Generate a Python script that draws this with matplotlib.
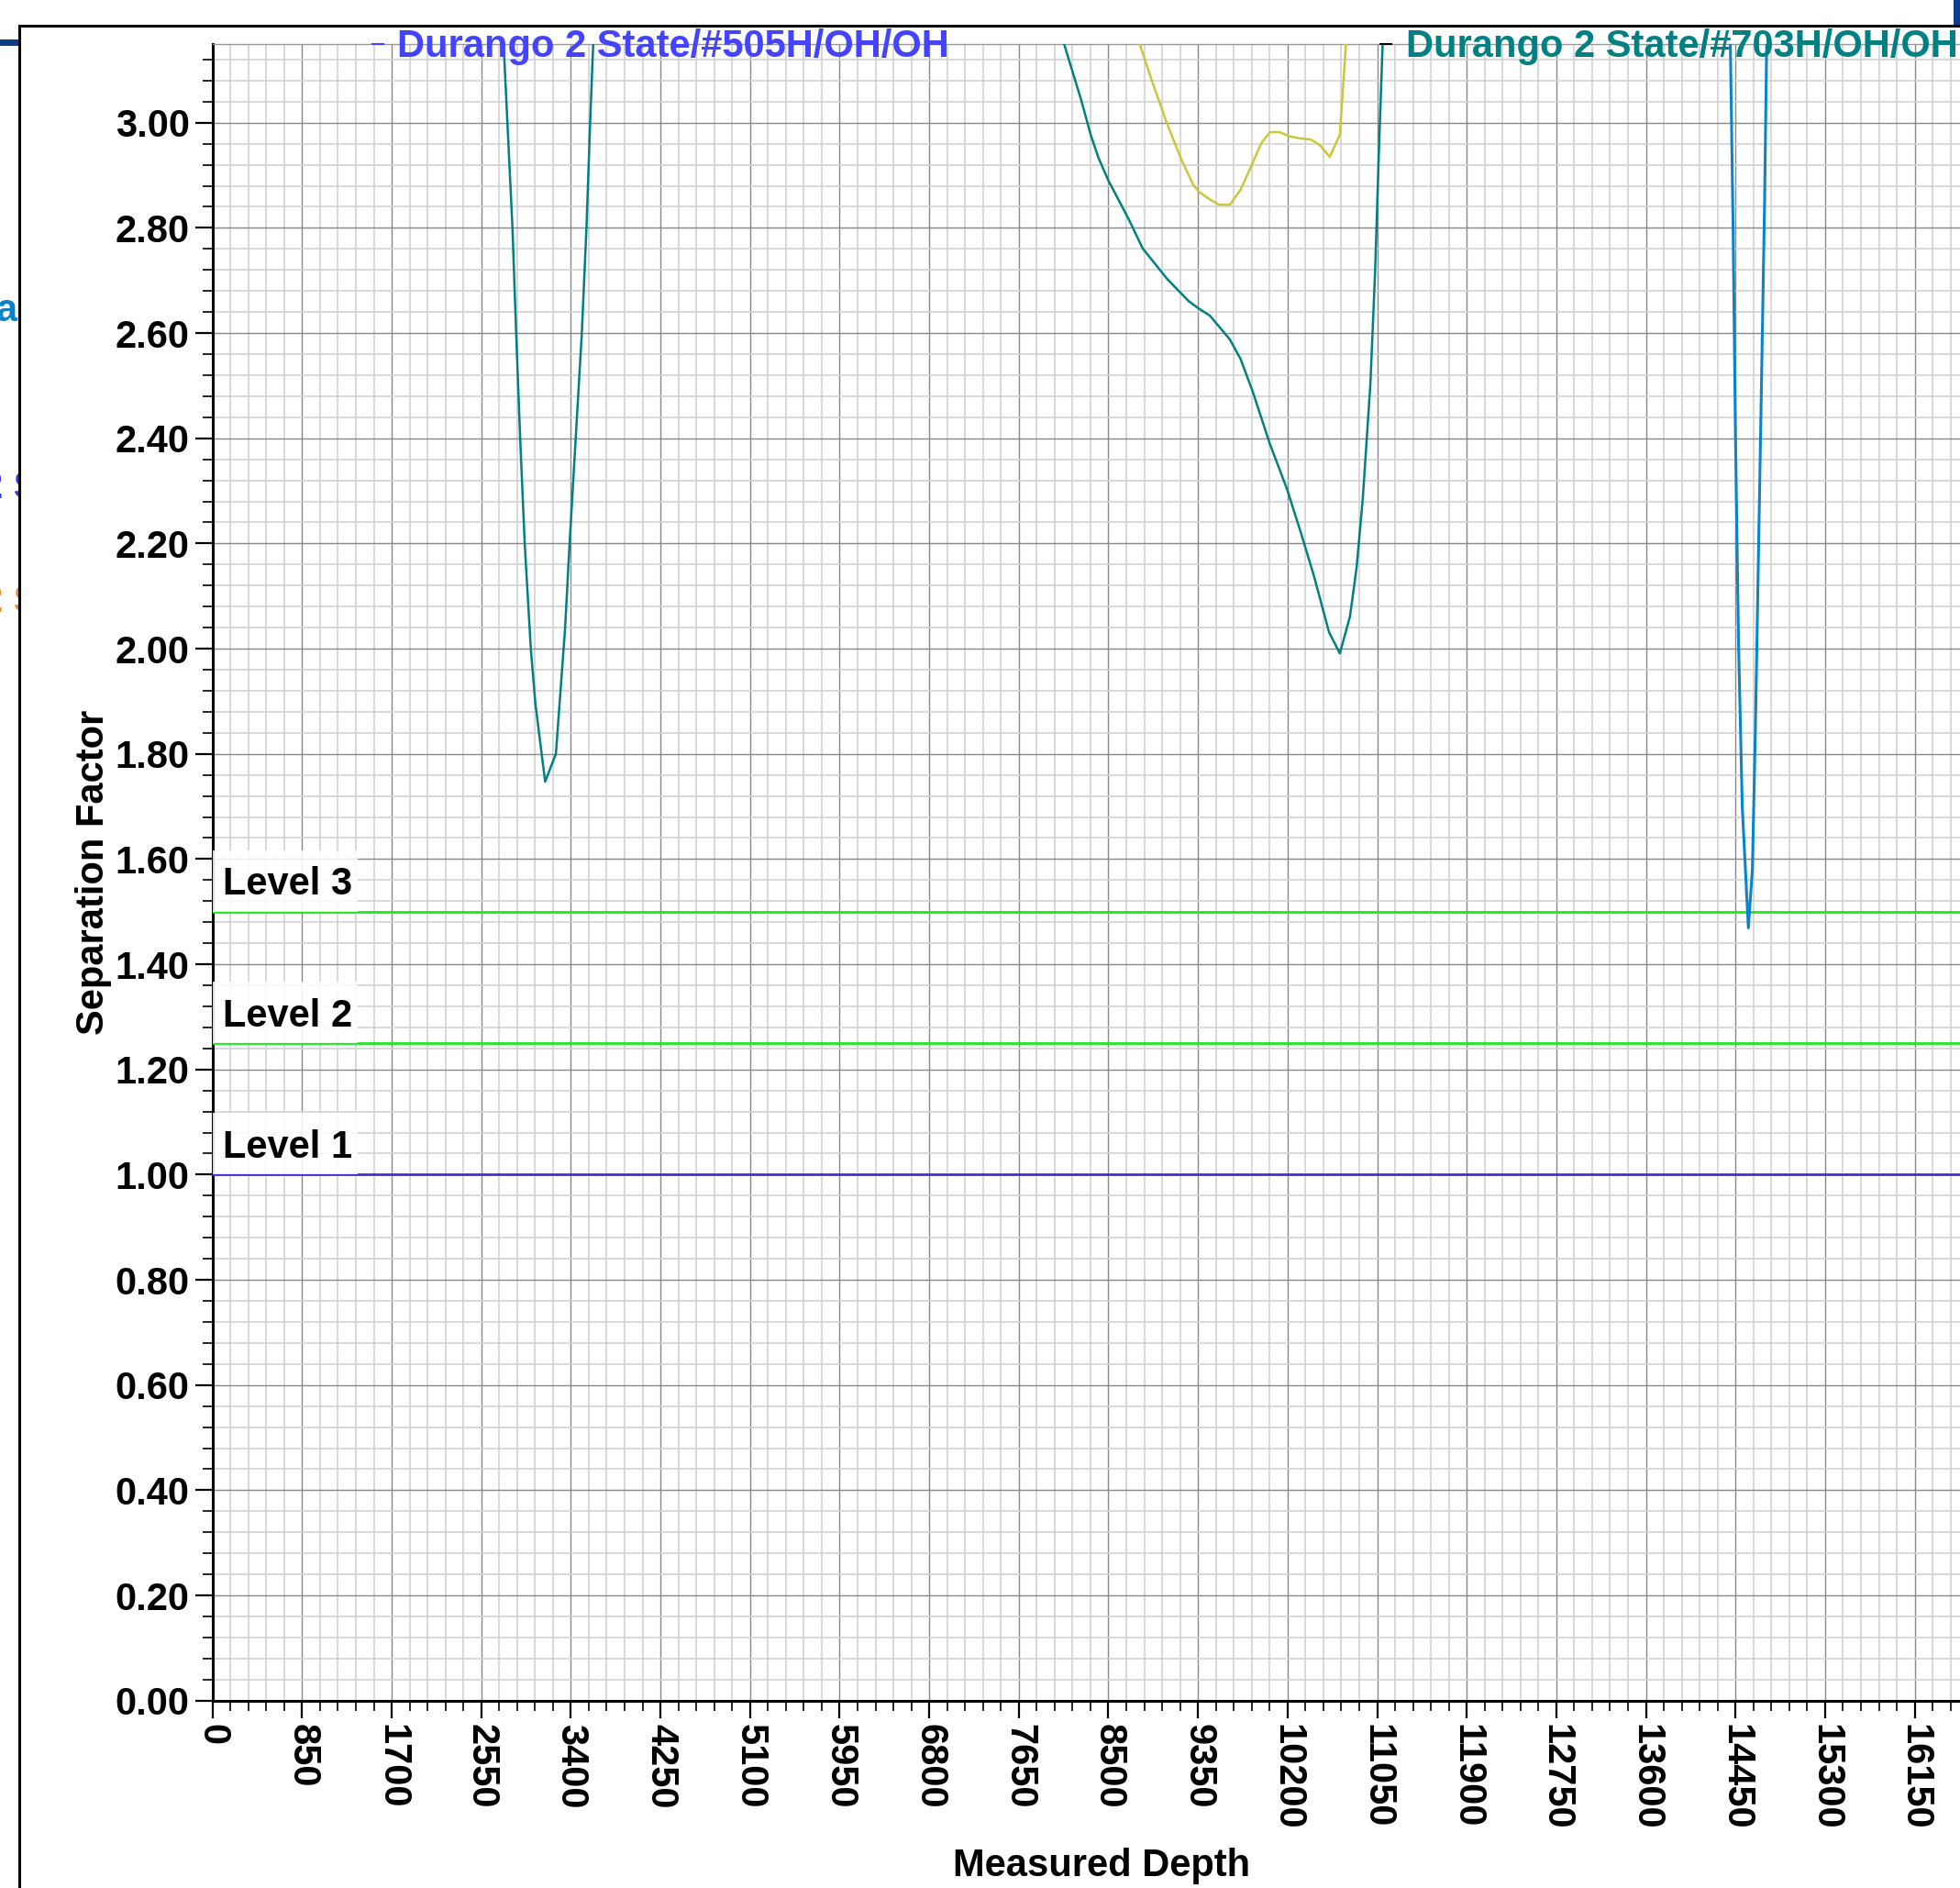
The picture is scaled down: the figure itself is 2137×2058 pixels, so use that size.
"""
Separation factor vs measured depth
"""
import matplotlib
matplotlib.use("Agg")
import matplotlib.pyplot as plt
from matplotlib.lines import Line2D
from matplotlib.patches import Rectangle
from matplotlib.ticker import MultipleLocator
from matplotlib.transforms import Bbox, TransformedBbox
import numpy as np

plt.rcParams['font.family'] = ['Liberation Sans', 'DejaVu Sans']
plt.rcParams['font.weight'] = 'bold'

# offset well #505H - first dip
md_505a = [2700, 2762, 2846, 2881, 2919, 2962, 3020, 3063, 3156, 3258, 3345, 3388, 3446, 3504, 3548, 3583, 3612, 3700]
sf_505a = [3.40, 3.15, 2.80, 2.60, 2.40, 2.20, 2.00, 1.896, 1.747, 1.80, 2.038, 2.20, 2.40, 2.60, 2.80, 3.00, 3.15, 3.45]

# offset well #505H - second dip
md_505b = [7990, 8079, 8245, 8332, 8404, 8500, 8694, 8825, 9057, 9260, 9347, 9463, 9652, 9753, 9869,
           10029, 10197, 10333, 10449, 10594, 10696, 10792, 10855, 10914, 10986, 11030, 11067, 11102, 11140]
sf_505b = [3.35, 3.15, 3.041, 2.977, 2.934, 2.89, 2.816, 2.761, 2.703, 2.661, 2.648, 2.633, 2.588, 2.551, 2.489,
           2.391, 2.302, 2.216, 2.139, 2.031, 1.991, 2.061, 2.154, 2.286, 2.504, 2.714, 2.948, 3.15, 3.40]

# yellow offset
md_yel = [8700, 8796, 8912, 9057, 9188, 9304, 9362, 9463, 9550, 9652, 9753, 9855, 9951, 10034, 10124,
          10217, 10319, 10420, 10507, 10600, 10696, 10754, 10790]
sf_yel = [3.30, 3.15, 3.08, 2.998, 2.932, 2.882, 2.868, 2.854, 2.844, 2.844, 2.872, 2.917, 2.961, 2.982, 2.982,
          2.974, 2.970, 2.968, 2.957, 2.935, 2.977, 3.15, 3.40]

# offset well #703H
md_703 = [14380, 14401, 14427, 14450, 14479, 14514, 14572, 14610, 14639, 14668, 14697, 14726, 14746, 14760]
sf_703 = [3.40, 3.15, 2.80, 2.40, 2.01, 1.70, 1.469, 1.58, 1.85, 2.18, 2.51, 2.85, 3.15, 3.40]

levels = [1.0, 1.25, 1.5]
level_names = ['Level 1', 'Level 2', 'Level 3']
level_colors = ['#4a2ae0', '#22e622', '#22e622']

legend_names = ['Durango 2 State/#505H/OH/OH', 'Durango 2 State/#703H/OH/OH']

W, H = 2137, 2058
fig = plt.figure(figsize=(W / 100, H / 100), dpi=100)
ax = fig.add_axes([231.7 / W, (H - 1853.7) / H, (W - 231.7) / W, (1853.7 - 47.7) / H])

teal = '#008080'
ax.plot(md_505a, sf_505a, color=teal, lw=1.8, zorder=4)
ax.plot(md_505b, sf_505b, color=teal, lw=1.8, zorder=4)
ax.plot(md_yel, sf_yel, color='#c8c83a', lw=1.8, zorder=4)
ax.plot(md_703, sf_703, color='#0a84c8', lw=2.2, zorder=4)

for lv, name, c in zip(levels, level_names, level_colors):
    ax.axhline(lv, color=c, lw=2.0, zorder=3)
    ax.add_patch(Rectangle((0, lv), 1375, 0.117, facecolor='white', edgecolor='none',
                           alpha=0.85, zorder=5))
    ax.text(98, lv + 0.032, name, fontsize=30, fontweight='bold', color='black',
            va='baseline', ha='left', zorder=6)

ax.set_xlim(0, 16580)
ax.set_ylim(0, 3.15)
ax.xaxis.set_major_locator(MultipleLocator(850))
ax.xaxis.set_minor_locator(MultipleLocator(170))
ax.yaxis.set_major_locator(MultipleLocator(0.2))
ax.yaxis.set_minor_locator(MultipleLocator(0.04))
ax.yaxis.set_major_formatter(matplotlib.ticker.FormatStrFormatter('%.2f'))

ax.grid(which='minor', color='#d2d2d2', lw=1.2, zorder=0)
ax.grid(which='major', color='#888888', lw=1.0, zorder=1)
ax.set_axisbelow(True)

ax.tick_params(axis='both', which='major', length=14, width=1.6, labelsize=30, pad=4)
ax.tick_params(axis='both', which='minor', length=8, width=1.2)
for lab in ax.get_xticklabels():
    lab.set_rotation(270)
    lab.set_fontweight('bold')
for lab in ax.get_yticklabels():
    lab.set_fontweight('bold')

for s in ['left', 'bottom']:
    ax.spines[s].set_linewidth(2.2)
    ax.spines[s].set_color('black')
ax.spines['top'].set_color('#999999')
ax.spines['top'].set_linewidth(1.0)
ax.spines['right'].set_visible(False)

ax.set_ylabel('Separation Factor', fontsize=30, fontweight='bold')
ax.yaxis.set_label_coords(-0.068, 0.5)
ax.set_xlabel('Measured Depth', fontsize=30, fontweight='bold')
ax.xaxis.set_label_coords(0.509, -0.0998)
ax.xaxis.label.set_va('center')
ax.yaxis.label.set_va('center')

# legend entries along the top
fig.text(433 / W, (H - 62) / H, legend_names[0], fontsize=30, fontweight='bold',
         color='#4444ff', va='baseline', ha='left')
fig.text(1533 / W, (H - 62) / H, legend_names[1], fontsize=30, fontweight='bold',
         color=teal, va='baseline', ha='left')
fig.add_artist(Line2D([406 / W, 418 / W], [(H - 48) / H] * 2, color='#4444ff', lw=1.5))
fig.add_artist(Line2D([1505 / W, 1517 / W], [(H - 48) / H] * 2, color='black', lw=1.5))

# outer frame and clipped neighbours
fig.add_artist(Line2D([21 / W, 21 / W], [-0.01, (H - 28) / H], color='black', lw=2.2))
fig.add_artist(Line2D([21 / W, 1.01], [(H - 28) / H] * 2, color='black', lw=2.2))
fig.add_artist(Rectangle((0, (H - 50) / H), 20 / W, 7 / H, transform=fig.transFigure,
                         facecolor='#0d3d8a', edgecolor='none'))
fig.add_artist(Rectangle((2130 / W, (H - 27) / H), 7 / W, 27 / H, transform=fig.transFigure,
                         facecolor='#0d3d8a', edgecolor='none'))

clip = TransformedBbox(Bbox([[0, 0], [20 / W, 1]]), fig.transFigure)
side_texts = [
    fig.text(19 / W, (H - 350) / H, 'a', fontsize=30, fontweight='bold', color='#0a84c8',
             ha='right', va='baseline'),
    fig.text(-20 / W, (H - 543) / H, '2 S', fontsize=30, fontweight='bold', color='#3a3aee',
             ha='left', va='baseline'),
    fig.text(-20 / W, (H - 667) / H, '2 S', fontsize=30, fontweight='bold', color='#f08a1a',
             ha='left', va='baseline'),
]
for t in side_texts:
    t.set_clip_box(clip)
    t.set_clip_on(True)

fig.savefig('out.png', dpi=100, facecolor='white')
